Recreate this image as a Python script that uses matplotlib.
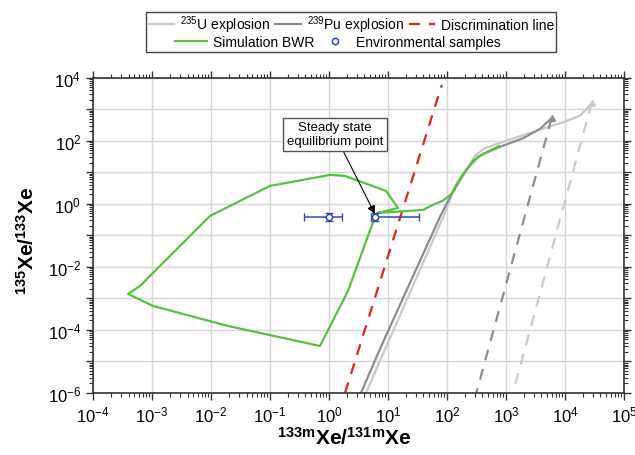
import numpy as np
import matplotlib
matplotlib.use("Agg")
import matplotlib.pyplot as plt
from matplotlib.patches import Rectangle
from matplotlib.ticker import LogLocator, FuncFormatter, NullFormatter

plt.rcParams['font.family'] = ['Liberation Sans', 'DejaVu Sans']
plt.rcParams['mathtext.fontset'] = 'custom'
plt.rcParams['mathtext.rm'] = 'Liberation Sans'
plt.rcParams['mathtext.it'] = 'Liberation Sans:italic'
plt.rcParams['mathtext.bf'] = 'Liberation Sans:bold'

#--------------------------------------------------------------------------------------------------
# Data
# 239Pu explosion, solid part and the dashed decay line from its end point
pu_x = [3.49, 7.32, 76.1, 120, 177, 279, 412, 900, 1965, 3770, 5950]
pu_y = [1e-6, 2.5e-5, 0.387, 2.08, 7.2, 23.7, 38.7, 71, 122, 240, 526]
pu_dash_x = [5950, 315]
pu_dash_y = [526, 1e-6]

# 235U explosion
u_x = [4.24, 7.32, 86.5, 128, 189, 298, 441, 1028, 3770, 9350, 17950, 23300, 28370]
u_y = [1e-6, 1.04e-5, 0.387, 2.35, 7.9, 34, 58.6, 102, 228, 392, 636, 1037, 1608]
u_dash_x = [28370, 1314]
u_dash_y = [1608, 1e-6]

# discrimination line
disc_x = [1.87, 82]
disc_y = [1e-6, 6000]

# simulation BWR
bwr_x = [6.77, 14.8, 9.25, 1.87, 1.04, 0.1, 0.0096, 6.26e-4, 3.92e-4, 1.04e-3, 0.0194,
         0.704, 2.1, 6.02, 6.77, 39.2, 51.5, 85.5, 120, 146, 189, 245, 339, 495, 761]
bwr_y = [0.518, 0.746, 2.59, 7.74, 8.33, 3.73, 0.416, 2.5e-3, 1.39e-3, 5.78e-4, 1.34e-4,
         3.1e-5, 1.73e-3, 0.387, 0.518, 0.645, 0.845, 1.27, 2.08, 4.31, 8.96, 16.4, 31.7, 45.7, 67.9]

# environmental samples
env_x = [1.0, 6.0]
env_y = [0.39, 0.39]
env_xlo = [0.623, 0.8]
env_xhi = [0.66, 27.5]
env_ylo = [0.1, 0.1]
env_yhi = [0.13, 0.13]

eq_point = (6.0, 0.48)
eq_label = (1.26, 161)

#--------------------------------------------------------------------------------------------------
# Plot
c_u = '#c9c9c9'
c_pu = '#8c8c8c'
c_red = '#e3231f'
c_green = '#55c23f'
c_blue = '#3448b0'

fig = plt.figure(figsize=(6.35, 4.56), dpi=100)
ax = fig.add_axes([0.1465, 0.136, 0.836, 0.691])

l_u, = ax.plot(u_x, u_y, color=c_u, lw=1.6, label=r'$^{235}$U explosion')
ax.plot(u_dash_x, u_dash_y, color=c_u, lw=1.6, ls=(0, (5, 4)))
ax.plot(u_x[-1], u_y[-1], marker='^', ms=4, color=c_u)

l_pu, = ax.plot(pu_x, pu_y, color=c_pu, lw=1.6, label=r'$^{239}$Pu explosion')
ax.plot(pu_dash_x, pu_dash_y, color=c_pu, lw=1.6, ls=(0, (5, 4)))
ax.plot(pu_x[-1], pu_y[-1], marker='^', ms=4, color=c_pu)

l_disc, = ax.plot(disc_x, disc_y, color=c_red, lw=1.6, ls=(0, (5, 4)), label='Discrimination line')

l_bwr, = ax.plot(bwr_x, bwr_y, color=c_green, lw=1.6, label='Simulation BWR')

ax.errorbar(env_x, env_y, xerr=[env_xlo, env_xhi], yerr=[env_ylo, env_yhi],
            fmt='none', ecolor=c_blue, elinewidth=1.1, capsize=3, zorder=5)
l_env, = ax.plot(env_x, env_y, 'o', ms=4.5, mfc='white', mec=c_blue, mew=1.1,
                 zorder=6, label='Environmental samples')

ax.annotate('Steady state\nequilibrium point', xy=eq_point, xytext=eq_label,
            ha='center', va='center', fontsize=9.5, zorder=7,
            bbox=dict(boxstyle='square,pad=0.3', fc='white', ec='#555555', lw=1),
            arrowprops=dict(arrowstyle='-|>', color='black', lw=0.8,
                            mutation_scale=12, shrinkA=0, shrinkB=0))

ax.set_xscale('log')
ax.set_yscale('log')
ax.set_xlim(1e-4, 1e5)
ax.set_ylim(1e-6, 1e4)

ax.xaxis.set_major_locator(LogLocator(base=10, numticks=20))
ax.xaxis.set_minor_locator(LogLocator(base=10, subs=np.arange(2, 10), numticks=20))
ax.yaxis.set_major_locator(LogLocator(base=10, numticks=20))
ax.yaxis.set_minor_locator(LogLocator(base=10, subs=np.arange(2, 10), numticks=20))
ax.xaxis.set_minor_formatter(NullFormatter())
ax.yaxis.set_minor_formatter(NullFormatter())
ax.xaxis.set_major_formatter(FuncFormatter(lambda v, p: r'$10^{%d}$' % round(np.log10(v))))
ax.yaxis.set_major_formatter(FuncFormatter(
    lambda v, p: r'$10^{%d}$' % round(np.log10(v)) if round(np.log10(v)) % 2 == 0 else ''))

ax.tick_params(which='major', direction='out', length=5, width=1, labelsize=12, colors='#333333')
ax.tick_params(which='minor', direction='out', length=3, width=0.8, colors='#333333')
ax.tick_params(which='both', top=True, right=True)
ax.tick_params(axis='both', labelcolor='black')

ax.grid(True, which='major', color='#d6d6d6', lw=1)
ax.set_axisbelow(True)
for s in ax.spines.values():
    s.set_color('#333333')
    s.set_linewidth(1.2)

ax.set_xlabel(r'$\mathbf{^{133m}Xe/^{131m}Xe}$', fontsize=15)
ax.set_ylabel(r'$\mathbf{^{135}Xe/^{133}Xe}$', fontsize=15)
ax.xaxis.set_label_coords(0.473, -0.105)
ax.yaxis.set_label_coords(-0.104, 0.485)

# legend: two centred rows inside one frame
kw = dict(loc='center', fontsize=10, frameon=False, handlelength=1.9,
          columnspacing=0.35, handletextpad=0.4, borderpad=0.1)
fig.legend(handles=[l_u, l_pu, l_disc], ncol=3, bbox_to_anchor=(351 / 635, 1 - 25 / 456), **kw)
kw['handlelength'] = 2.3
fig.legend(handles=[l_bwr, l_env], ncol=2, bbox_to_anchor=(338 / 635, 1 - 43 / 456), **kw)
fig.add_artist(Rectangle((146 / 635, 1 - 53 / 456), 410 / 635, 40 / 456,
                         transform=fig.transFigure, fill=False, ec='#444444', lw=1))

fig.savefig('out.png', dpi=100)
